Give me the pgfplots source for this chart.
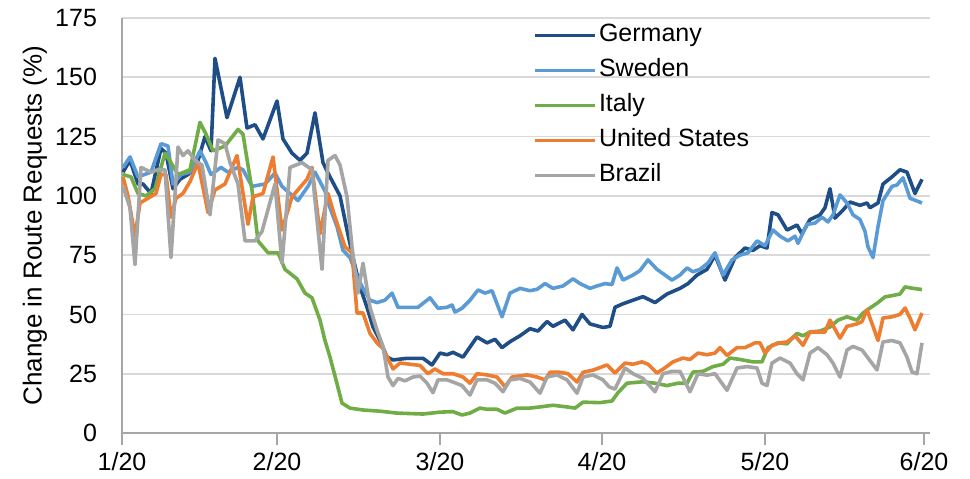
\documentclass[border=0pt]{standalone}
\usepackage{fontspec}
\setmainfont{Liberation Sans}
\usepackage{pgfplots}
\pgfplotsset{compat=1.18}

\definecolor{deu}{HTML}{1F4E86}
\definecolor{swe}{HTML}{5B9BD5}
\definecolor{ita}{HTML}{70AD47}
\definecolor{usa}{HTML}{ED7D31}
\definecolor{bra}{HTML}{A5A5A5}
\definecolor{gridc}{HTML}{D9D9D9}
\definecolor{axc}{HTML}{A6A6A6}

% x is the horizontal position in the source picture (pixels)
\begin{document}
\begin{tikzpicture}
\useasboundingbox (0,0) rectangle (485pt,239pt);
\begin{axis}[
    at={(61pt,22.5pt)}, anchor=south west,
    scale only axis,
    width=404pt, height=207.5pt,
    xmin=122, xmax=930,
    ymin=0, ymax=175,
    xtick={122,277,440,602,765,924},
    xticklabels={\mbox{1/20},\mbox{2/20},\mbox{3/20},\mbox{4/20},\mbox{5/20},\mbox{6/20}},
    ytick={0,25,...,175},
    /pgf/number format/assume math mode=true,
    tick label style={font=\fontsize{12.5}{14}\selectfont, text=black},
    yticklabel style={xshift=-3pt},
    axis x line=bottom, axis y line=left,
    axis line style={-, draw=axc, line width=0.8pt},
    tick align=outside,
    xtick style={draw=axc, line width=0.8pt},
    major tick length=6pt,
    ytick style={draw=none},
    ymajorgrids,
    grid style={draw=gridc, line width=0.8pt},
    ylabel={Change in Route Requests (\%)},
    every axis y label/.style={at={(rel axis cs:0,0.5)}, xshift=-43.5pt, rotate=90, anchor=center,
        font=\fontsize{13}{15}\selectfont},
    every axis plot/.append style={line width=1.8pt, line join=round, no markers},
    legend cell align=left,
    legend style={draw=none, fill=none, inner sep=0pt,
        at={(0.5087,0.993)}, anchor=north west,
        font=\fontsize{12.5}{14}\selectfont,
        nodes={text height=9pt, text depth=3pt, inner sep=1pt},
        row sep=3.5pt,
        /tikz/every even column/.style={column sep=2.5pt}},
    legend image code/.code={\draw[#1] (0pt,0pt) -- (30pt,0pt);},
]
\addplot[deu] coordinates {
(123,110) (130,115) (138,105) (143,105) (151,101) (161,120) (166,118) (173,103) (180,107) (188,109)
(196,112) (205,125) (211,119) (215,158) (227,133) (240,150) (247,128.6) (255,130) (263,124) (277,140)
(283,124) (292,118) (300,115) (307,118) (315,135) (323,114) (330,108) (340,100) (347,85.6) (353,74)
(360,61.6) (367,53) (373,44.7) (380,39) (387,32) (393,30.8) (407,31.5) (423,31.5) (432,28.7) (440,33.7)
(447,33) (453,34) (463,32) (477,40.5) (487,38) (495,39.5) (502,36) (510,38.5) (520,41) (530,44)
(538,43) (547,47) (553,45) (565,47.6) (573,43.5) (582,50) (590,46) (603,44.5) (610,45) (615,53)
(623,54.5) (633,56) (643,57.5) (655,55) (667,58.6) (680,61) (688,63) (697,66.6) (707,69) (715,75)
(725,64.5) (735,74) (745,78) (753,77) (760,79) (767,78) (772,93) (778,92) (787,85.6) (797,87.7)
(802,84) (810,90) (820,92) (825,95) (830,103) (835,90.6) (843,94) (850,97.4) (860,96) (867,97)
(870,95) (878,97) (883,105) (892,108) (900,111) (907,110) (915,101) (922,107)
};
\addlegendentry{Germany}
\addplot[swe] coordinates {
(123,112) (130,116.4) (138,108) (151,110) (161,122) (168,121) (173,105) (181,109) (190,110) (200,119)
(206,114) (211,109) (221,112) (228,110) (238,112) (243,111) (252,104) (265,105) (275,109.6) (282,104)
(298,98) (308,104) (315,110) (325,102) (330,95) (337,87) (343,77) (350,74) (357,66) (363,61)
(370,56) (377,55) (385,56) (392,59) (398,53) (410,53) (418,53) (430,57) (438,52.6) (447,53)
(452,54) (455,51) (462,52.6) (470,56) (478,60.3) (485,59) (492,60) (502,49) (510,59) (520,61)
(530,60) (537,60.6) (545,63) (553,61) (563,62) (573,65) (580,63) (590,61) (597,62) (605,63)
(612,62.6) (617,69.6) (623,64.5) (633,66.6) (640,68.5) (648,73) (657,69) (665,66.6) (672,64.5) (680,66.6)
(687,69.6) (693,68) (700,69) (708,71.7) (715,76) (723,66.6) (732,73) (740,75) (748,76) (757,81)
(765,79) (773,85.6) (780,83) (788,81) (795,83) (798,80) (807,88) (815,88.5) (822,91) (828,89)
(833,92) (840,100.4) (847,97) (853,92) (860,90) (865,85) (868,78.5) (873,74) (878,87) (883,98)
(892,104) (897,104.6) (903,107.6) (910,99) (922,97)
};
\addlegendentry{Sweden}
\addplot[ita] coordinates {
(123,109) (131,108) (138,101) (146,100) (155,103) (165,118) (171,114) (178,109) (190,111) (200,131)
(206,126) (213,119) (225,121) (238,128) (243,126) (252,102.5) (258,81) (268,76) (278,76) (285,69)
(297,65) (305,59) (312,57) (320,47.6) (325,39) (330,32) (335,24) (342,12.6) (350,10.5) (363,9.7)
(380,9.2) (397,8.4) (423,8) (440,8.8) (453,9) (462,7.6) (470,8.4) (480,10.5) (487,10) (497,10)
(505,8.4) (517,10.5) (530,10.5) (540,11) (553,11.7) (567,11) (575,10.5) (583,13) (600,12.8) (612,13.5)
(618,17) (627,21) (643,21.6) (655,21) (667,20) (678,21) (687,21) (693,25.7) (703,26) (713,28)
(723,29) (730,31.6) (740,31) (753,30) (762,30) (768,36) (778,38) (787,37.6) (797,42) (803,41)
(810,42.6) (820,43) (830,44.7) (838,47.6) (847,49) (857,47.6) (863,50.6) (870,52.7) (878,55) (885,57.4)
(893,58) (900,58.6) (905,61.6) (913,61) (922,60.5)
};
\addlegendentry{Italy}
\addplot[usa] coordinates {
(123,108) (128,100) (135,83) (140,97) (148,99) (156,101) (161,109) (166,109) (171,91) (176,99)
(183,101) (190,106) (198,114) (208,93) (215,102.5) (225,105) (237,117) (248,88) (253,99.6) (263,101)
(273,116.4) (282,85.6) (292,99.6) (307,107) (312,112) (320,84) (328,101) (335,91) (345,78.5) (352,76)
(357,50.6) (363,50.6) (370,42) (377,38) (383,35.6) (393,27) (400,29.5) (410,29) (420,28.5) (428,25)
(435,27) (443,25) (453,25) (463,23.6) (470,21) (477,25) (487,24.5) (497,23.6) (505,19.5) (512,23.6)
(527,24.5) (537,23.6) (545,22.4) (550,25.6) (560,25.6) (568,25) (577,21.5) (583,25.6) (593,26.5) (607,28.7)
(615,25.3) (625,29.5) (633,29) (642,30) (648,29) (657,25.3) (665,27.5) (673,30) (683,31.6) (690,31)
(698,33.7) (707,33) (715,33.7) (720,36) (727,32.7) (737,36) (745,36) (755,38) (760,38) (765,33.7)
(772,37) (780,38) (787,38.4) (795,41) (803,37) (810,42.6) (818,42.6) (825,42.6) (830,47.6) (840,40)
(847,45) (857,46) (862,47) (867,52) (873,45) (878,39) (883,48.5) (892,49) (900,50) (905,52.7)
(910,48.5) (915,43.5) (922,50.6)
};
\addlegendentry{United States}
\addplot[bra] coordinates {
(123,104) (130,95) (135,71) (141,112) (151,110) (158,111) (165,111) (171,74) (178,120.6) (183,117)
(188,119) (195,115) (202,113) (210,92) (218,123.6) (225,122) (230,114) (238,105) (245,81) (255,81)
(262,85) (275,105) (282,71.6) (290,112) (302,114) (312,111) (322,69) (328,115) (335,117) (340,113)
(347,99.6) (352,78.5) (358,59) (363,71.6) (370,53) (377,43.4) (383,36.5) (388,23.6) (393,20) (398,23)
(405,22) (413,23.6) (420,24) (427,21) (433,17) (438,22.4) (447,22.4) (453,21.5) (462,20) (470,16)
(477,22.4) (487,22.4) (495,21) (503,17.4) (510,22.4) (520,23) (530,21.5) (540,16.8) (547,23.6) (557,24.5)
(567,22.4) (577,16.8) (583,23.6) (593,24.5) (603,22.4) (609,19.5) (615,18.5) (625,27.4) (633,25) (643,23)
(655,17.4) (663,25) (672,26) (680,26) (690,17.4) (698,25) (707,24.4) (715,25) (727,18) (737,27.4)
(747,28) (757,27.4) (762,21) (767,20) (772,29.5) (780,31.6) (790,29.5) (797,25) (803,22.4) (810,33.7)
(818,36) (827,33) (833,29.5) (840,23.6) (847,35) (853,36.5) (862,35) (870,30.5) (877,26.6) (883,38.4)
(892,39) (900,38) (907,32) (912,25.7) (917,25) (922,38)
};
\addlegendentry{Brazil}
\end{axis}
\end{tikzpicture}
\end{document}
